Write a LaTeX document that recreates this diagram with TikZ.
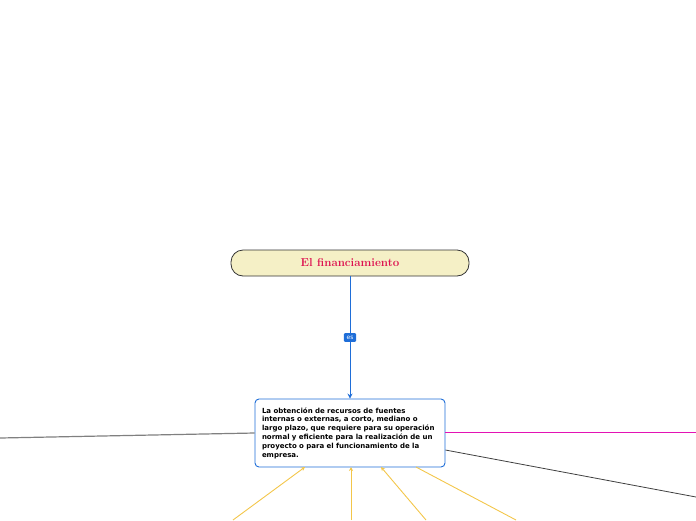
\documentclass[tikz,border=0pt]{standalone}
\usepackage{fontspec}
\newfontfamily\boxfont{DejaVu Sans}
\usetikzlibrary{arrows.meta,positioning}
\definecolor{mapblue}{HTML}{1F6ED8}
\definecolor{titlefill}{HTML}{F5F0C6}
\definecolor{titlered}{HTML}{DD1150}
\definecolor{linkpink}{HTML}{E313B4}
\definecolor{linkyellow}{HTML}{F3C64A}

\begin{document}
\begin{tikzpicture}[x=1pt,y=-1pt,
  topic/.style={draw=black!80,fill=titlefill,rounded corners=12pt,line width=0.8pt,
    minimum width=238pt,minimum height=26pt,text=titlered,font=\bfseries\fontsize{11.5}{13}\selectfont},
  idea/.style={draw=mapblue,fill=white,rounded corners=4pt,line width=0.9pt,
    minimum width=190pt,minimum height=68pt,text width=176pt,align=left,inner xsep=7pt,inner ysep=5pt,
    font=\boxfont\bfseries\fontsize{7}{8.8}\selectfont},
  tag/.style={fill=mapblue,text=white,rounded corners=1pt,inner sep=2.6pt,
    font=\boxfont\fontsize{6}{7}\selectfont},
  feed/.style={linkyellow,line width=0.9pt}]
  \useasboundingbox (0,0) rectangle (696,520);

  \node[topic] (tema) at (350,263) {El financiamiento};
  \node[idea] (def) at (350,433) {La obtención de recursos de fuentes\\
    internas o externas, a corto, mediano o\\
    largo plazo, que requiere para su operación\\
    normal y eficiente para la realización de un\\
    proyecto o para el funcionamiento de la\\
    empresa.};

  % enlace principal
  \draw[mapblue,line width=1pt,-{Stealth[length=5pt,width=5pt]}] (tema) -- node[tag] (es) {es} (def);

  % ramas sueltas
  \coordinate (izq) at (0,438);
  \coordinate (der) at (696,432);
  \coordinate (derb) at (696,497);
  \draw[black!50,line width=1.2pt] (izq) -- (def.west |- 0,433);
  \draw[linkpink,line width=1pt] (def.east |- 0,432) -- (der);
  \draw[black!75,line width=0.8pt] (def.east |- 0,450) -- (derb);

  % ramas de abajo
  \coordinate (a1) at (233,520);
  \coordinate (a2) at (351,520);
  \coordinate (a3) at (426,520);
  \coordinate (a4) at (516,520);
  \draw[feed,-{Stealth[length=4pt,width=4pt]}] (a1) -- (305,467);
  \draw[feed,-{Stealth[length=4pt,width=4pt]}] (a2) -- (351,467);
  \draw[feed,-{Stealth[length=4pt,width=4pt]}] (a3) -- (381,467);
  \draw[feed] (a4) -- (416,467);
\end{tikzpicture}
\end{document}
